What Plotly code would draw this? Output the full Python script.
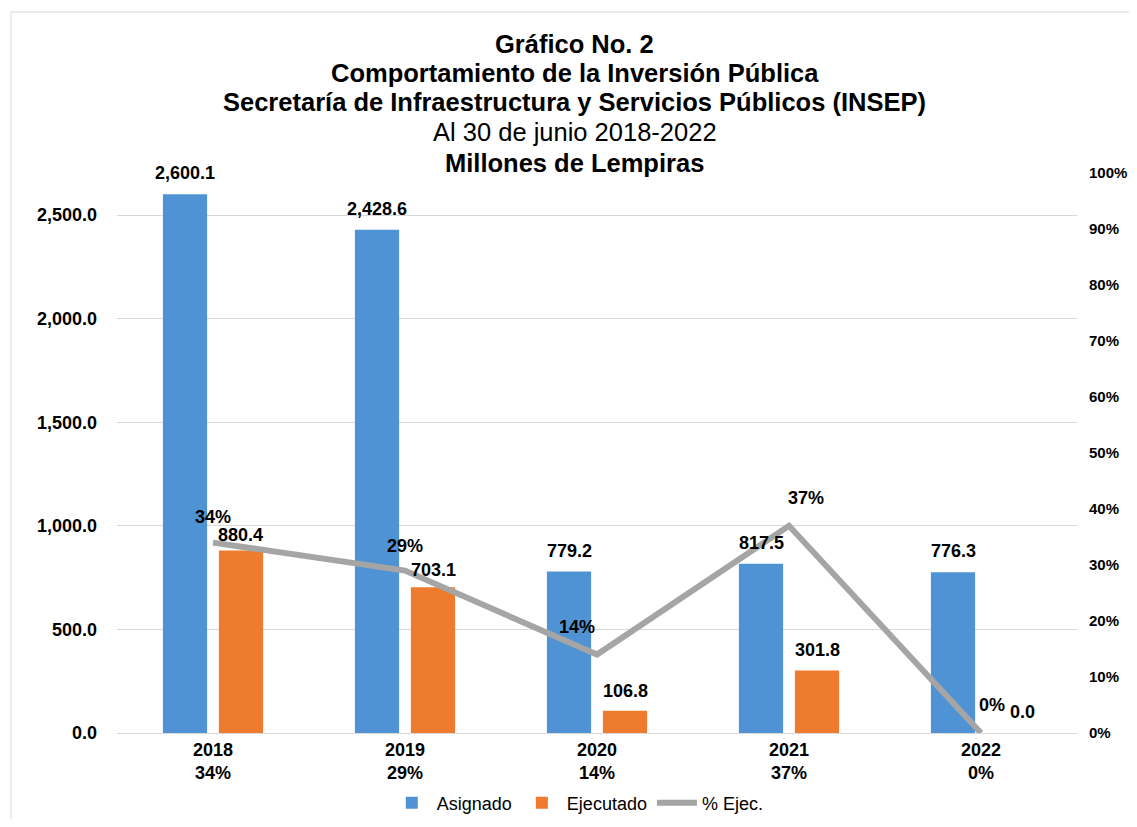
import plotly.graph_objects as go

years = ["2018", "2019", "2020", "2021", "2022"]
asignado = [2600.1, 2428.6, 779.2, 817.5, 776.3]
ejecutado = [880.4, 703.1, 106.8, 301.8, 0.0]
pct_ejec = [0.34, 0.29, 0.14, 0.37, 0.0]
pct_labels = ["34%", "29%", "14%", "37%", "0%"]
y_ticks = [0, 500, 1000, 1500, 2000, 2500]
y2_ticks = [i / 10 for i in range(11)]

FONT = "Liberation Sans, Arial, sans-serif"
ticktext = [f"<b>{y}</b><br><b>{p}</b>" for y, p in zip(years, pct_labels)]

fig = go.Figure()
fig.add_trace(go.Bar(
    x=years, y=asignado, name="Asignado",
    marker=dict(color="#5093d4", line=dict(width=0)),
))
fig.add_trace(go.Bar(
    x=years, y=ejecutado, name="Ejecutado",
    marker=dict(color="#ef7b2e", line=dict(width=0)),
))
fig.add_trace(go.Scatter(
    x=years, y=pct_ejec, name="% Ejec.", yaxis="y2", mode="lines",
    line=dict(color="#a5a5a5", width=6), cliponaxis=False,
))

annotations = []
LABEL_FONT = dict(size=18, color="black", family=FONT)
# bar data labels (x as category index, pixel offsets for the grouped bars)
blue_off = [(-28, 21)] * 5
orange_off = [(27, 16), (28, 17), (28, 20), (28, 20), (41, 21)]
for series, offs in ((asignado, blue_off), (ejecutado, orange_off)):
    for i, (v, (dx, dy)) in enumerate(zip(series, offs)):
        annotations.append(dict(
            text=f"<b>{v:,.1f}</b>", xref="x", yref="y", x=i, y=v,
            xshift=dx, yshift=dy,
            showarrow=False, xanchor="center", yanchor="middle", font=LABEL_FONT,
        ))
# line data labels
offsets = [(0, 26), (0, 25), (-20, 28), (17, 28), (11, 28)]
for i, (v, lab, (dx, dy)) in enumerate(zip(pct_ejec, pct_labels, offsets)):
    annotations.append(dict(
        text=f"<b>{lab}</b>", xref="x", yref="y2", x=i, y=v,
        xshift=dx, yshift=dy, showarrow=False, xanchor="center", yanchor="middle",
        font=LABEL_FONT,
    ))

titles = [
    ("<b>Gráfico No. 2</b>", 44),
    ("<b>Comportamiento de la Inversión Pública</b>", 73),
    ("<b>Secretaría de Infraestructura y Servicios Públicos (INSEP)</b>", 102),
    ("Al 30 de junio 2018-2022", 132),
    ("<b>Millones de Lempiras</b>", 163),
]
for t, py in titles:
    annotations.append(dict(
        text=t, xref="paper", yref="paper", x=0.477, y=(733 - py) / 560,
        xanchor="center", yanchor="middle", showarrow=False,
        font=dict(size=25.5, color="black", family=FONT),
    ))

fig.update_layout(
    width=1129, height=811,
    margin=dict(l=109, r=60, t=165, b=86, autoexpand=False),
    paper_bgcolor="white", plot_bgcolor="white",
    font=dict(family=FONT, color="black"),
    barmode="group", bargap=0.417, bargroupgap=0.21,
    showlegend=True,
    legend=dict(orientation="h", x=0.48, y=-0.125, xanchor="center", yanchor="middle",
                font=dict(size=18, color="black", family=FONT), traceorder="normal",
                itemwidth=40),
    xaxis=dict(type="category", range=[-0.5, 4.5], tickmode="array", tickvals=years,
               ticktext=ticktext, automargin=False,
               tickfont=dict(size=18, color="black", family=FONT),
               showgrid=False, showline=True, linecolor="#d9d9d9", linewidth=1, ticks=""),
    yaxis=dict(range=[0, 2703], tickmode="array", tickvals=y_ticks,
               ticktext=[f"<b>{v:,.1f}</b>" for v in y_ticks], automargin=False,
               tickfont=dict(size=18, color="black", family=FONT),
               showgrid=True, gridcolor="#d9d9d9", gridwidth=1, zeroline=False,
               showline=False, ticks="", ticklabelstandoff=19),
    yaxis2=dict(range=[0, 1], overlaying="y", side="right", tickmode="array",
                tickvals=y2_ticks, ticktext=[f"<b>{v:.0%}</b>" for v in y2_ticks],
                automargin=False, showgrid=False, zeroline=False, showline=False,
                tickfont=dict(size=15, color="black", family=FONT), ticklabelstandoff=11),
    annotations=annotations,
    shapes=[dict(type="rect", xref="paper", yref="paper",
                 x0=(11 - 117) / 960, x1=(1140 - 117) / 960,
                 y0=(733 - 830) / 560, y1=(733 - 12) / 560,
                 line=dict(color="#d9d9d9", width=1), fillcolor="rgba(0,0,0,0)", layer="below")],
    hovermode=False,
)
fig.for_each_trace(lambda t: t.update(hoverinfo="skip"))

fig.write_html("out.html")
